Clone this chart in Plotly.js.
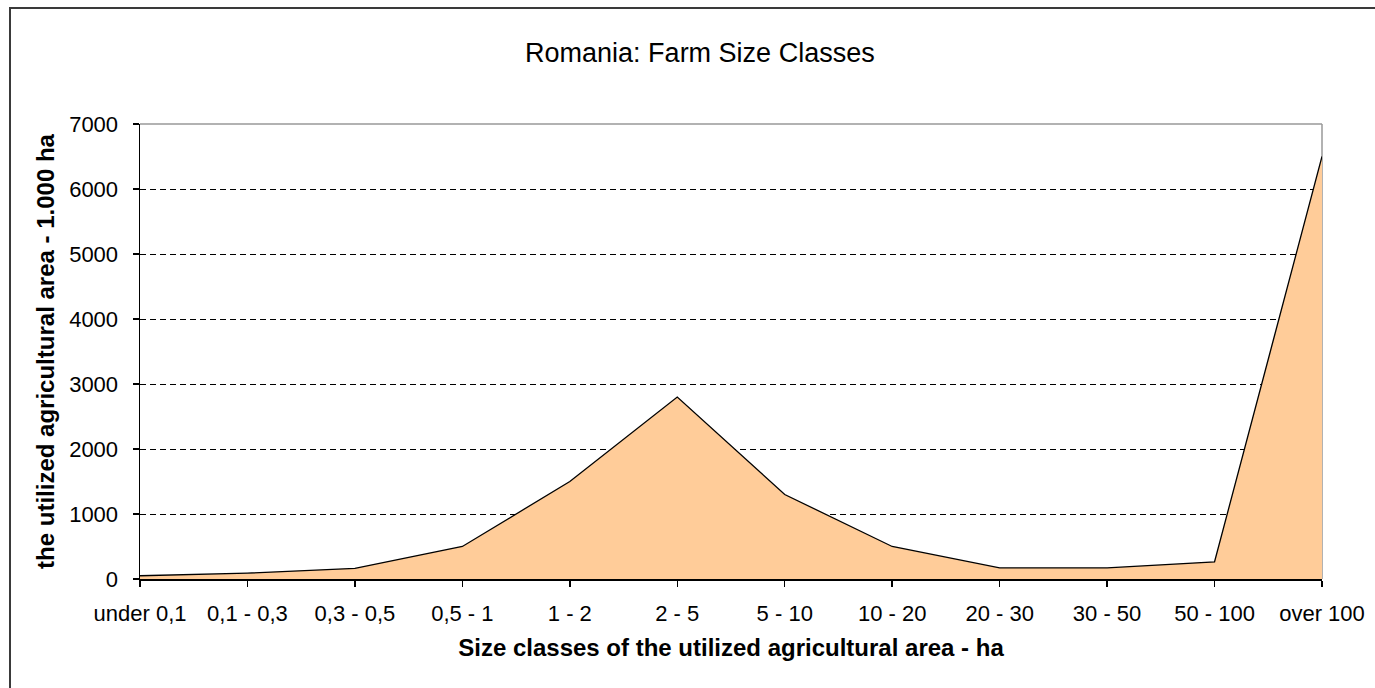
<!DOCTYPE html>
<html>
<head>
<meta charset="utf-8">
<script src="https://cdn.plot.ly/plotly-3.0.1.min.js"></script>
<style>
  html, body { margin: 0; padding: 0; background: #fff; overflow: hidden; }
  #chart { width: 1375px; height: 688px; position: absolute; left: 0; top: 0; }
  #frame { position: absolute; left: 9px; top: 7px; width: 1400px; height: 700px;
           border-left: 2px solid #3a3a3a; border-top: 2px solid #3a3a3a; pointer-events: none; }
</style>
</head>
<body>
<div id="chart"></div>
<div id="frame"></div>
<script>
const categories = ["under 0,1", "0,1 - 0,3", "0,3 - 0,5", "0,5 - 1", "1 - 2", "2 - 5",
                    "5 - 10", "10 - 20", "20 - 30", "30 - 50", "50 - 100", "over 100"];
const areaValues = [50, 90, 165, 500, 1500, 2800, 1300, 500, 170, 170, 265, 6500];
const yTicks = [0, 1000, 2000, 3000, 4000, 5000, 6000, 7000];

const font = "Liberation Sans, Arial, sans-serif";

const trace = {
  type: "scatter",
  mode: "lines",
  x: categories,
  y: areaValues,
  fill: "tozeroy",
  fillcolor: "#FFCC99",
  line: { color: "#000000", width: 1.3 },
  hoverinfo: "x+y"
};

const layout = {
  width: 1375,
  height: 688,
  margin: { l: 140, r: 53, t: 124, b: 109 },
  paper_bgcolor: "#ffffff",
  plot_bgcolor: "#ffffff",
  showlegend: false,
  title: {
    text: "Romania: Farm Size Classes",
    font: { family: font, size: 27, color: "#000" },
    x: 0.509, xref: "container", xanchor: "center",
    y: 0.923, yref: "container", yanchor: "middle"
  },
  xaxis: {
    type: "category",
    range: [0, categories.length - 1],
    showline: true, linecolor: "#000", linewidth: 1.5,
    ticks: "outside", ticklen: 6, tickcolor: "#000", tickwidth: 1.5,
    ticklabelstandoff: 8,
    showgrid: false, zeroline: false,
    tickfont: { family: font, size: 22, color: "#000" },
    title: { text: "<b>Size classes of the utilized agricultural area - ha</b>",
             font: { family: font, size: 24, color: "#000" }, standoff: 14 }
  },
  yaxis: {
    range: [0, 7000],
    tickvals: yTicks,
    showline: true, linecolor: "#000", linewidth: 1.5,
    ticks: "outside", ticklen: 6, tickcolor: "#000", tickwidth: 1.5,
    ticklabelstandoff: 10,
    showgrid: true, gridcolor: "#000", gridwidth: 1, griddash: "6px,4px",
    zeroline: false,
    tickfont: { family: font, size: 22, color: "#000" },
    title: { text: "<b>the utilized agricultural area - 1.000 ha</b>",
             font: { family: font, size: 24, color: "#000" }, standoff: 7 }
  },
  shapes: [
    { type: "line", xref: "paper", yref: "paper", x0: 0, x1: 1, y0: 1, y1: 1,
      line: { color: "#999", width: 1.5 }, layer: "below" },
    { type: "line", xref: "paper", yref: "paper", x0: 1, x1: 1, y0: 0, y1: 1,
      line: { color: "#999", width: 1.5 }, layer: "below" }
  ]
};

Plotly.newPlot("chart", [trace], layout, { displayModeBar: false, staticPlot: true });
</script>
</body>
</html>
